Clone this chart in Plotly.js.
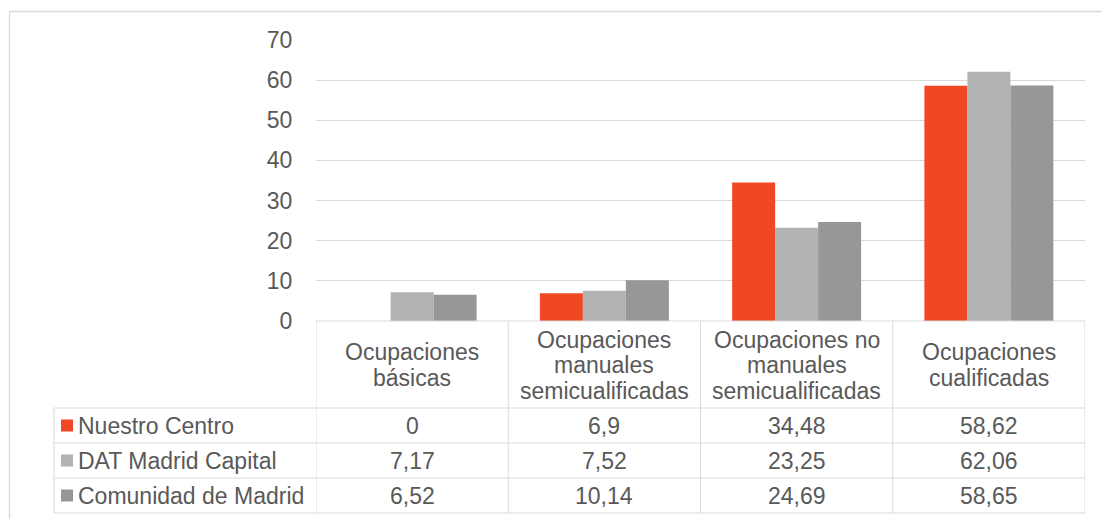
<!DOCTYPE html>
<html><head><meta charset="utf-8">
<script src="https://cdn.plot.ly/plotly-3.0.1.min.js"></script>
<style>html,body{margin:0;padding:0;background:#fff;} #chart{width:1102px;height:519px;}</style>
</head><body><div id="chart"></div>
<script>
// ---- data ----
const categories = ["Ocupaciones básicas", "Ocupaciones manuales semicualificadas", "Ocupaciones no manuales semicualificadas", "Ocupaciones cualificadas"];
const categoryLabelLines = [["Ocupaciones", "básicas"], ["Ocupaciones", "manuales", "semicualificadas"], ["Ocupaciones no", "manuales", "semicualificadas"], ["Ocupaciones", "cualificadas"]];
const seriesNames = ["Nuestro Centro", "DAT Madrid Capital", "Comunidad de Madrid"];
const nuestroCentro = [0, 6.9, 34.48, 58.62];
const datMadridCapital = [7.17, 7.52, 23.25, 62.06];
const comunidadMadrid = [6.52, 10.14, 24.69, 58.65];
const yTicks = [0, 10, 20, 30, 40, 50, 60, 70];

// ---- style ----
const seriesValues = [nuestroCentro, datMadridCapital, comunidadMadrid];
const seriesColors = ["#EF4823", "#B2B2B2", "#979797"];
const W = 1102, H = 519;
const L = 316, R = 1085, T = 40, B = 321;
const px = x => (x - L) / (R - L);
const py = y => (B - y) / (B - T);
const gridColor = "#D9D9D9";
const textColor = "#595959";
const fontFam = "Arial, 'Liberation Sans', sans-serif";
const fs = 23;
const fmt = v => String(v).replace('.', ',');

const traces = seriesNames.map((name, s) => ({
  type: 'bar', name: name, x: categories, y: seriesValues[s],
  marker: {color: seriesColors[s], line: {width: 0}},
  hoverinfo: 'skip'
}));

const shapes = [];
const annotations = [];
const hline = (y, x0, x1) => shapes.push({type: 'line', xref: 'paper', yref: 'paper', x0: px(x0), x1: px(x1), y0: py(y), y1: py(y), line: {color: gridColor, width: 1}});

// outer frame (top + left)
shapes.push({type: 'line', xref: 'paper', yref: 'paper', x0: px(9.5), x1: px(1115), y0: py(11.5), y1: py(11.5), line: {color: gridColor, width: 1.3}});
shapes.push({type: 'line', xref: 'paper', yref: 'paper', x0: px(9.5), x1: px(9.5), y0: py(11.5), y1: py(530), line: {color: gridColor, width: 1.3}});

// table rows
const headerTop = 321, headerBottom = 408, rowH = 35;
const rowTops = seriesNames.map((_, r) => headerBottom + r * rowH);
const tableBottom = headerBottom + seriesNames.length * rowH;
hline(headerTop, L, R);
hline(headerBottom, 54, R);
rowTops.forEach((t, r) => hline(t + rowH, 54, R));
// vertical lines
shapes.push({type: 'line', xref: 'paper', yref: 'paper', x0: px(54), x1: px(54), y0: py(headerBottom), y1: py(tableBottom), line: {color: gridColor, width: 1}});
for (let i = 0; i <= categories.length; i++) {
  shapes.push({type: 'line', xref: 'x', yref: 'paper', x0: i - 0.5, x1: i - 0.5, y0: py(headerTop), y1: py(tableBottom), line: {color: gridColor, width: 1}});
}

// header labels
const headerMid = (headerTop + headerBottom) / 2 + 0.5;
const lineStep = 25.5;
categoryLabelLines.forEach((lines, i) => {
  lines.forEach((ln, j) => {
    const yc = headerMid + (j - (lines.length - 1) / 2) * lineStep;
    annotations.push({xref: 'x', yref: 'paper', x: i, y: py(yc), text: ln, showarrow: false, xanchor: 'center', yanchor: 'middle', font: {family: fontFam, size: fs, color: textColor}});
  });
});

// values + legend rows
seriesNames.forEach((name, r) => {
  const yc = rowTops[r] + rowH / 2;
  seriesValues[r].forEach((v, i) => {
    annotations.push({xref: 'x', yref: 'paper', x: i, y: py(yc), text: fmt(v), showarrow: false, xanchor: 'center', yanchor: 'middle', font: {family: fontFam, size: fs, color: textColor}});
  });
  shapes.push({type: 'rect', xref: 'paper', yref: 'paper', x0: px(61), x1: px(73), y0: py(yc - 6), y1: py(yc + 6), fillcolor: seriesColors[r], line: {width: 0}});
  annotations.push({xref: 'paper', yref: 'paper', x: px(76), y: py(yc), text: name, showarrow: false, xanchor: 'left', yanchor: 'middle', font: {family: fontFam, size: fs, color: textColor}});
});

const layout = {
  width: W, height: H,
  margin: {l: L, r: W - R, t: T, b: H - B, pad: 0},
  paper_bgcolor: '#fff', plot_bgcolor: '#fff',
  showlegend: false,
  barmode: 'group', bargap: 0.329, bargroupgap: 0,
  font: {family: fontFam, size: fs, color: textColor},
  xaxis: {type: 'category', range: [-0.5, 3.5], showticklabels: false, showgrid: false, zeroline: false, showline: false, ticks: '', fixedrange: true},
  yaxis: {range: [0, 70], tickvals: yTicks, ticktext: yTicks.map(String), showgrid: true, gridcolor: gridColor, gridwidth: 1, zeroline: false, showline: false,
          ticks: 'outside', ticklen: 18, tickcolor: 'rgba(0,0,0,0)', tickfont: {family: fontFam, size: fs, color: textColor}, fixedrange: true},
  shapes: shapes,
  annotations: annotations
};

Plotly.newPlot('chart', traces, layout, {displayModeBar: false, staticPlot: true});
</script>
</body></html>
